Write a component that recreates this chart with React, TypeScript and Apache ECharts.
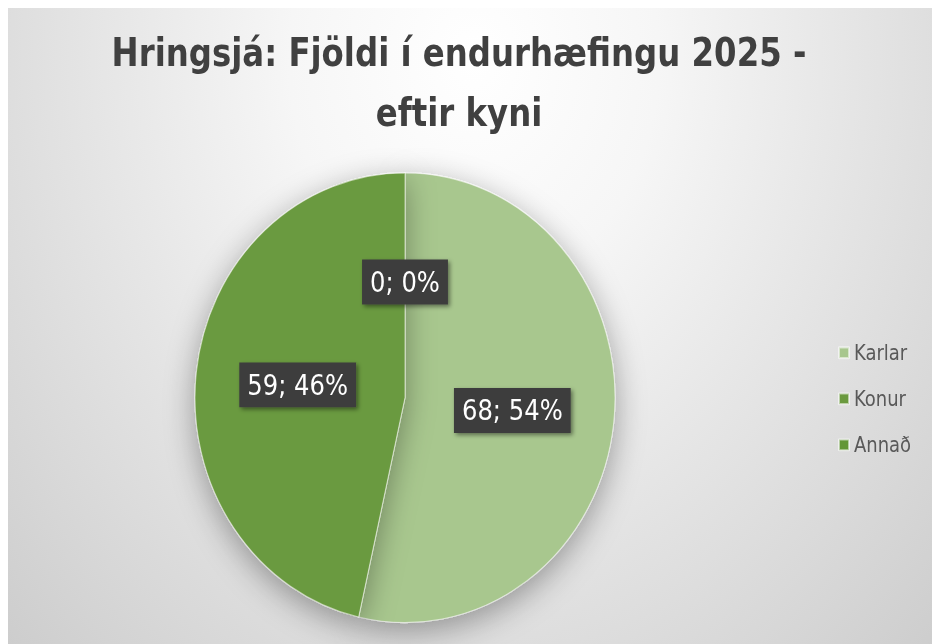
import React, { useEffect, useRef } from "react";
import * as echarts from "echarts";

const titleText = "Hringsjá: Fjöldi í endurhæfingu 2025 -\neftir kyni";
const categories = ["Karlar", "Konur", "Annað"];
const values = [68, 59, 0];
const colors = ["#a8c78e", "#6b9a3f", "#639636"];

const FONT = '"DejaVu Sans Condensed", "Noto Sans", sans-serif';
const STRETCH = 1.0707;
const W = 932;
const H = 636;

export default function App() {
  const ref = useRef<HTMLDivElement>(null);
  useEffect(() => {
    if (!ref.current) return;
    const chart = echarts.init(ref.current, undefined, { renderer: "svg" });
    chart.setOption({
      animation: false,
      title: {
        text: titleText,
        left: 446,
        top: 9,
        textAlign: "center",
        textStyle: {
          fontFamily: FONT,
          fontSize: 36,
          fontWeight: "bold",
          color: "#404040",
          lineHeight: 56,
        },
      },
      legend: {
        orient: "vertical",
        left: 825,
        top: 307,
        itemWidth: 10,
        itemHeight: 10,
        itemGap: 23,
        icon: "rect",
        data: categories,
        textStyle: {
          fontFamily: FONT,
          fontSize: 20,
          color: "#595959",
          lineHeight: 20,
        },
      },
      series: [
        {
          type: "pie",
          center: [397, 364],
          radius: [0, 210],
          startAngle: 90,
          clockwise: true,
          percentPrecision: 0,
          label: {
            show: true,
            position: "inside",
            formatter: "{c}; {d}%",
            fontFamily: FONT,
            fontSize: 27,
            lineHeight: 28,
            color: "#ffffff",
            backgroundColor: "#3d3d3d",
            padding: [7, 8],
            shadowColor: "rgba(0,0,0,0.45)",
            shadowBlur: 4,
            shadowOffsetX: 2,
            shadowOffsetY: 2,
          },
          labelLine: { show: false },
          itemStyle: {
            borderColor: "rgba(255,255,255,0.55)",
            borderWidth: 1,
            shadowBlur: 30,
            shadowColor: "rgba(0,0,0,0.35)",
            shadowOffsetY: 8,
          },
          emphasis: { disabled: true },
          data: categories.map((name, i) => ({
            name,
            value: values[i],
            itemStyle: { color: colors[i] },
          })),
        },
      ],
    });
    return () => chart.dispose();
  }, []);
  return (
    <div
      style={{
        width: W,
        height: H,
        overflow: "hidden",
        position: "relative",
        background:
          "radial-gradient(ellipse at 50% 8%, #ffffff 0%, #f6f6f6 28%, #cdcdcd 100%)",
      }}
    >
      <div
        ref={ref}
        style={{
          width: W,
          height: Math.round(H / STRETCH),
          transform: `scaleY(${STRETCH})`,
          transformOrigin: "top left",
        }}
      />
    </div>
  );
}
